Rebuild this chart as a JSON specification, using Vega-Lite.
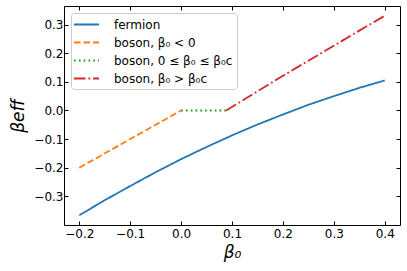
{
  "$schema": "https://vega.github.io/schema/vega-lite/v6.json",
  "width": 336,
  "height": 219,
  "autosize": {"type": "none"},
  "padding": {"left": 64, "top": 6, "right": 7, "bottom": 46},
  "config": {
    "view": {"stroke": null},
    "font": "DejaVu Sans",
    "axis": {
      "grid": false,
      "domainColor": "black",
      "domainWidth": 1,
      "tickColor": "black",
      "tickWidth": 1,
      "tickSize": -4,
      "labelFont": "DejaVu Sans",
      "labelFontSize": 12,
      "labelColor": "black",
      "titleFont": "DejaVu Sans",
      "titleFontSize": 17,
      "titleFontStyle": "italic",
      "titleFontWeight": "normal",
      "titleColor": "black"
    },
    "legend": {
      "orient": "top-left",
      "offset": 7,
      "padding": 4,
      "rowPadding": 4,
      "strokeColor": "#cccccc",
      "fillColor": "rgba(255,255,255,0.8)",
      "cornerRadius": 3,
      "labelFont": "DejaVu Sans",
      "labelFontSize": 12,
      "labelColor": "black",
      "symbolType": "M-2,0H2",
      "symbolSize": 156,
      "symbolStrokeWidth": 1.8,
      "symbolOffset": 4,
      "labelOffset": 20
    }
  },
  "data": {
    "values": [
      {"series": "fermion", "b0": -0.2, "y": -0.366},
      {"series": "fermion", "b0": -0.15, "y": -0.3135},
      {"series": "fermion", "b0": -0.1, "y": -0.264},
      {"series": "fermion", "b0": -0.05, "y": -0.2156},
      {"series": "fermion", "b0": 0.0, "y": -0.170},
      {"series": "fermion", "b0": 0.05, "y": -0.1275},
      {"series": "fermion", "b0": 0.1, "y": -0.087},
      {"series": "fermion", "b0": 0.15, "y": -0.049},
      {"series": "fermion", "b0": 0.2, "y": -0.014},
      {"series": "fermion", "b0": 0.25, "y": 0.0199},
      {"series": "fermion", "b0": 0.3, "y": 0.050},
      {"series": "fermion", "b0": 0.35, "y": 0.079},
      {"series": "fermion", "b0": 0.4, "y": 0.105},
      {"series": "boson, β₀ < 0", "b0": -0.2, "y": -0.2},
      {"series": "boson, β₀ < 0", "b0": 0.0, "y": 0.0},
      {"series": "boson, 0 ≤ β₀ ≤ β₀c", "b0": 0.0, "y": 0.0},
      {"series": "boson, 0 ≤ β₀ ≤ β₀c", "b0": 0.0886, "y": 0.0},
      {"series": "boson, β₀ > β₀c", "b0": 0.0886, "y": 0.0},
      {"series": "boson, β₀ > β₀c", "b0": 0.15, "y": 0.067},
      {"series": "boson, β₀ > β₀c", "b0": 0.2, "y": 0.121},
      {"series": "boson, β₀ > β₀c", "b0": 0.25, "y": 0.174},
      {"series": "boson, β₀ > β₀c", "b0": 0.3, "y": 0.226},
      {"series": "boson, β₀ > β₀c", "b0": 0.35, "y": 0.279},
      {"series": "boson, β₀ > β₀c", "b0": 0.4, "y": 0.331}
    ]
  },
  "layer": [
    {
      "mark": {"type": "line", "strokeWidth": 1.8},
      "encoding": {
        "x": {
          "field": "b0",
          "type": "quantitative",
          "scale": {"domain": [-0.23, 0.43], "nice": false, "zero": false},
          "axis": {
            "values": [-0.2, -0.1, 0, 0.1, 0.2, 0.3, 0.4],
            "format": ".1f",
            "title": "β₀",
            "labelPadding": 7,
            "titlePadding": 5
          }
        },
        "y": {
          "field": "y",
          "type": "quantitative",
          "scale": {"domain": [-0.4, 0.365], "nice": false, "zero": false},
          "axis": {
            "values": [-0.3, -0.2, -0.1, 0, 0.1, 0.2, 0.3],
            "format": ".1f",
            "title": "βeff",
            "labelPadding": 5,
            "titlePadding": 6
          }
        },
        "color": {
          "field": "series",
          "type": "nominal",
          "scale": {
            "domain": ["fermion", "boson, β₀ < 0", "boson, 0 ≤ β₀ ≤ β₀c", "boson, β₀ > β₀c"],
            "range": ["#1f77b4", "#ff7f0e", "#2ca02c", "#d62728"]
          },
          "legend": {"title": null}
        },
        "strokeDash": {
          "field": "series",
          "type": "nominal",
          "scale": {
            "domain": ["fermion", "boson, β₀ < 0", "boson, 0 ≤ β₀ ≤ β₀c", "boson, β₀ > β₀c"],
            "range": [[1, 0], [6.6, 2.9], [1.8, 3], [11.5, 2.9, 1.8, 2.9]]
          },
          "legend": {"title": null}
        }
      }
    },
    {
      "mark": {"type": "point", "opacity": 0},
      "encoding": {
        "x": {
          "field": "b0",
          "type": "quantitative",
          "scale": {"domain": [-0.23, 0.43], "nice": false, "zero": false},
          "axis": {"orient": "top", "values": [-0.2, -0.1, 0, 0.1, 0.2, 0.3, 0.4], "labels": false, "title": null}
        },
        "y": {
          "field": "y",
          "type": "quantitative",
          "scale": {"domain": [-0.4, 0.365], "nice": false, "zero": false},
          "axis": {"orient": "right", "values": [-0.3, -0.2, -0.1, 0, 0.1, 0.2, 0.3], "labels": false, "title": null}
        }
      }
    }
  ],
  "resolve": {"scale": {"x": "independent", "y": "independent"}}
}
